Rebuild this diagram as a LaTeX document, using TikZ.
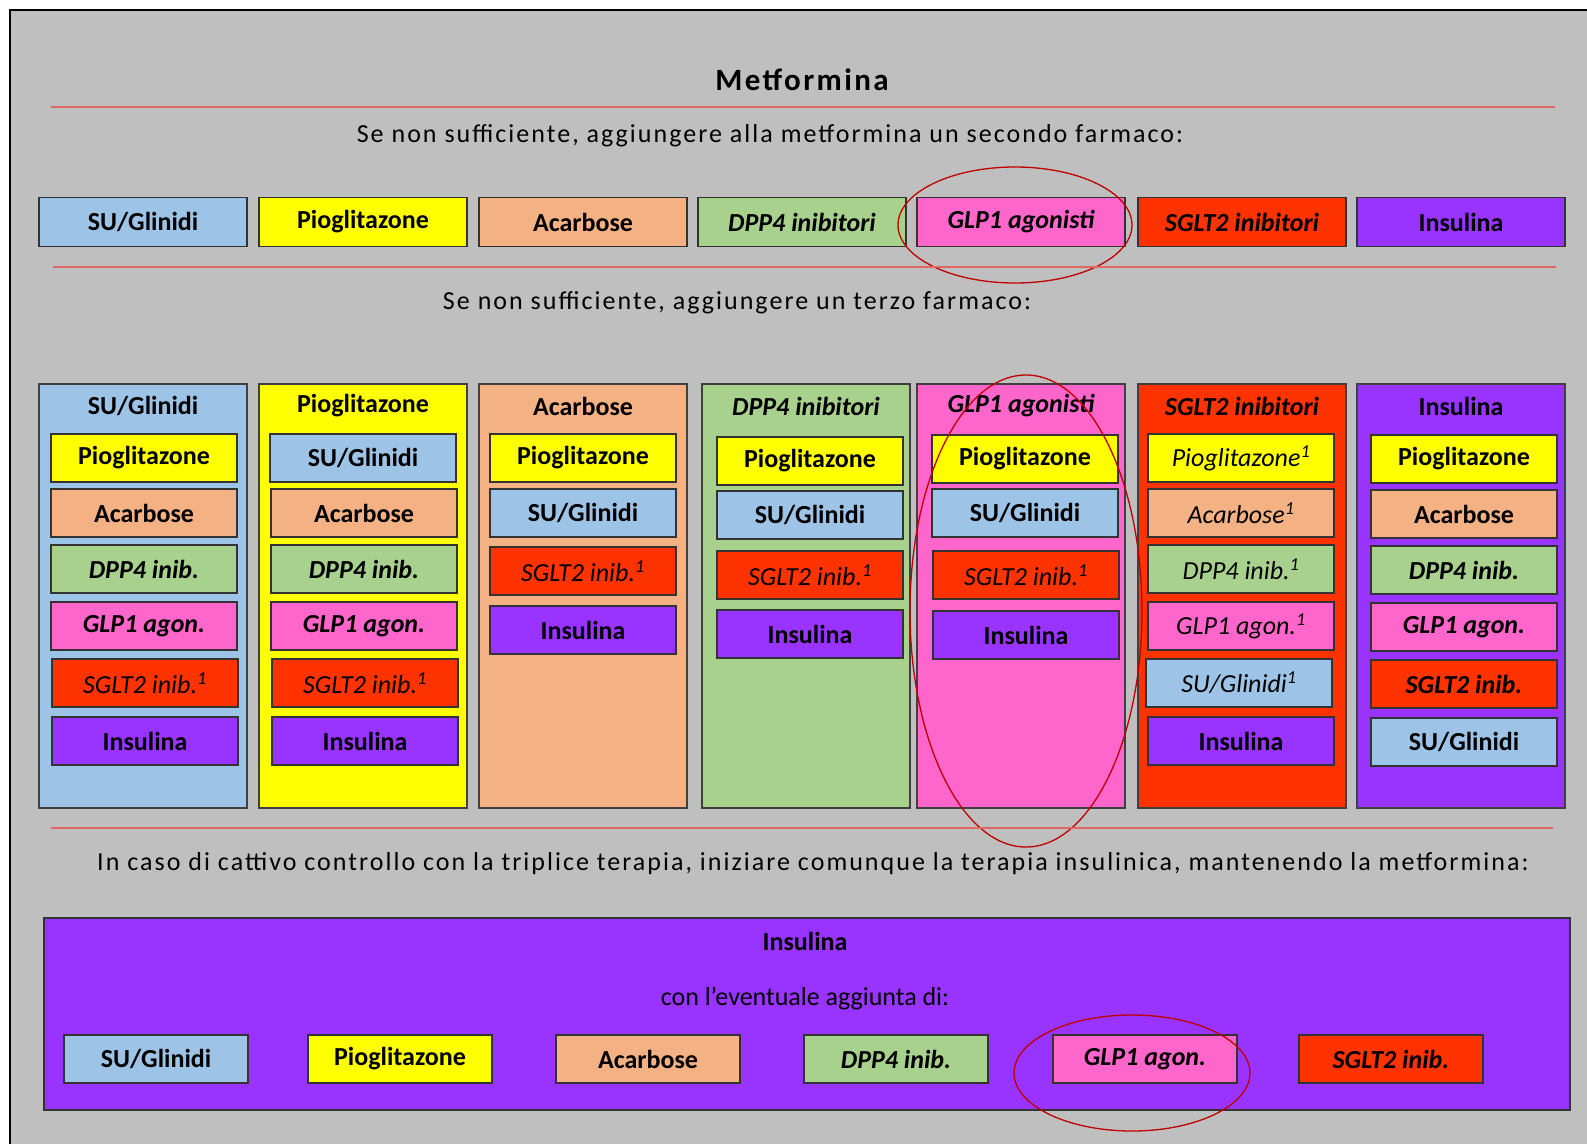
\documentclass[tikz,border=0pt]{standalone}
\usepackage{fontspec}
\setmainfont{Carlito}
\newfontfamily\spacedfont[LetterSpace=7.8]{Carlito}

\definecolor{suc}{HTML}{9DC3E6}
\definecolor{pioc}{HTML}{FFFF00}
\definecolor{acac}{HTML}{F4B183}
\definecolor{dppc}{HTML}{A9D18E}
\definecolor{glpc}{HTML}{FF66CC}
\definecolor{sglc}{HTML}{FF3300}
\definecolor{insc}{HTML}{9933FF}
\definecolor{bggray}{HTML}{BFBFBF}
\definecolor{rulered}{HTML}{E06666}
\definecolor{ringred}{HTML}{C00000}

\tikzset{
  drug/.style={draw=black!80, line width=1.3pt, minimum width=186pt, minimum height=48pt,
    inner sep=0pt, font=\fontsize{26}{30}\selectfont\bfseries},
  firstrow/.style={drug, minimum width=208pt, minimum height=49pt},
  lastrow/.style={drug, minimum width=184pt},
  column/.style={draw=black!75, line width=1.5pt, minimum width=208pt, minimum height=424pt,
    anchor=north, inner sep=0pt},
  head/.style={font=\fontsize{26}{30}\selectfont\bfseries},
  bolditalic/.style={font=\fontsize{26}{30}\selectfont\bfseries\itshape},
  lightitalic/.style={font=\fontsize{26}{30}\selectfont\itshape},
  plain/.style={font=\fontsize{26}{30}\selectfont\spacedfont},
  su/.style={fill=suc}, pio/.style={fill=pioc}, aca/.style={fill=acac},
  dpp/.style={fill=dppc}, glp/.style={fill=glpc}, sgl/.style={fill=sglc}, ins/.style={fill=insc},
  rule/.style={draw=rulered, line width=1.2pt},
  ring/.style={draw=ringred, line width=1.3pt}
}

\begin{document}
\begin{tikzpicture}[x=1pt,y=-1pt]
    \useasboundingbox (0,0) rectangle (1587,1143);
    \clip (0,0) rectangle (1587,1143);
    \fill[white] (0,0) rectangle (1587,1143);
    \draw[fill=bggray, line width=2pt] (10,10) rectangle (1620,1180);

    % metformina
    \node[font=\fontsize{31}{36}\selectfont\spacedfont\bfseries] (title) at (802,80) {Metformina};
    \coordinate (r1a) at (51,107);
    \coordinate (r1b) at (1555,107);
    \draw[rule] (r1a) -- (r1b);
    \node[plain] (step2) at (770,136) {Se non sufficiente, aggiungere alla metformina un secondo farmaco:};

    % second drug
    \node[firstrow, su] (s2su) at (143,222) {SU/Glinidi};
    \node[firstrow, pio] (s2pio) at (363,222) {Pioglitazone};
    \node[firstrow, aca] (s2aca) at (583,222) {Acarbose};
    \node[firstrow, dpp, bolditalic] (s2dpp) at (802,222) {DPP4 inibitori};
    \node[firstrow, glp, bolditalic] (s2glp) at (1021,222) {GLP1 agonisti};
    \node[firstrow, sgl, bolditalic] (s2sgl) at (1242,222) {SGLT2 inibitori};
    \node[firstrow, ins] (s2ins) at (1461,222) {Insulina};
    \draw[ring] (1015,225) ellipse [x radius=117, y radius=58];

    \coordinate (r2a) at (53,267);
    \coordinate (r2b) at (1556,267);
    \draw[rule] (r2a) -- (r2b);
    \node[plain] (step3) at (737,303) {Se non sufficiente, aggiungere un terzo farmaco:};

    % third drug, one column each
    \node[column, su] (colsu) at (143,383) {};
    \node[head] (hsu) at (143,406) {SU/Glinidi};
    \node[drug, pio] (su-pio) at (144,458) {Pioglitazone};
    \node[drug, aca] (su-aca) at (144,513) {Acarbose};
    \node[drug, dpp, bolditalic] (su-dpp) at (144,569) {DPP4 inib.};
    \node[drug, glp, bolditalic] (su-glp) at (144,626) {GLP1 agon.};
    \node[drug, sgl, lightitalic] (su-sgl) at (145,683) {SGLT2 inib.\textsuperscript{1}};
    \node[drug, ins] (su-ins) at (145,741) {Insulina};

    \node[column, pio] (colpio) at (363,383) {};
    \node[head] (hpio) at (363,406) {Pioglitazone};
    \node[drug, su] (pio-su) at (363,458) {SU/Glinidi};
    \node[drug, aca] (pio-aca) at (364,513) {Acarbose};
    \node[drug, dpp, bolditalic] (pio-dpp) at (364,569) {DPP4 inib.};
    \node[drug, glp, bolditalic] (pio-glp) at (364,626) {GLP1 agon.};
    \node[drug, sgl, lightitalic] (pio-sgl) at (365,683) {SGLT2 inib.\textsuperscript{1}};
    \node[drug, ins] (pio-ins) at (365,741) {Insulina};

    \node[column, aca] (colaca) at (583,383) {};
    \node[head] (haca) at (583,406) {Acarbose};
    \node[drug, pio] (aca-pio) at (583,458) {Pioglitazone};
    \node[drug, su] (aca-su) at (583,513) {SU/Glinidi};
    \node[drug, sgl, lightitalic] (aca-sgl) at (583,571) {SGLT2 inib.\textsuperscript{1}};
    \node[drug, ins] (aca-ins) at (583,630) {Insulina};

    \node[column, dpp] (coldpp) at (806,383) {};
    \node[bolditalic] (hdpp) at (806,406) {DPP4 inibitori};
    \node[drug, pio] (dpp-pio) at (810,461) {Pioglitazone};
    \node[drug, su] (dpp-su) at (810,515) {SU/Glinidi};
    \node[drug, sgl, lightitalic] (dpp-sgl) at (810,575) {SGLT2 inib.\textsuperscript{1}};
    \node[drug, ins] (dpp-ins) at (810,634) {Insulina};

    \node[column, glp] (colglp) at (1021,383) {};
    \node[bolditalic] (hglp) at (1021,406) {GLP1 agonisti};
    \node[drug, pio] (glp-pio) at (1025,459) {Pioglitazone};
    \node[drug, su] (glp-su) at (1025,513) {SU/Glinidi};
    \node[drug, sgl, lightitalic] (glp-sgl) at (1026,575) {SGLT2 inib.\textsuperscript{1}};
    \node[drug, ins] (glp-ins) at (1026,635) {Insulina};

    \node[column, sgl] (colsgl) at (1242,383) {};
    \node[bolditalic] (hsgl) at (1242,406) {SGLT2 inibitori};
    \node[drug, pio, lightitalic] (sgl-pio) at (1241,458) {Pioglitazone\textsuperscript{1}};
    \node[drug, aca, lightitalic] (sgl-aca) at (1241,513) {Acarbose\textsuperscript{1}};
    \node[drug, dpp, lightitalic] (sgl-dpp) at (1241,569) {DPP4 inib.\textsuperscript{1}};
    \node[drug, glp, lightitalic] (sgl-glp) at (1241,626) {GLP1 agon.\textsuperscript{1}};
    \node[drug, su, lightitalic] (sgl-su) at (1239,683) {SU/Glinidi\textsuperscript{1}};
    \node[drug, ins] (sgl-ins) at (1241,741) {Insulina};

    \node[column, ins] (colins) at (1461,383) {};
    \node[head] (hins) at (1461,406) {Insulina};
    \node[drug, pio] (ins-pio) at (1464,459) {Pioglitazone};
    \node[drug, aca] (ins-aca) at (1464,514) {Acarbose};
    \node[drug, dpp, bolditalic] (ins-dpp) at (1464,570) {DPP4 inib.};
    \node[drug, glp, bolditalic] (ins-glp) at (1464,627) {GLP1 agon.};
    \node[drug, sgl, bolditalic] (ins-sgl) at (1464,684) {SGLT2 inib.};
    \node[drug, su] (ins-su) at (1464,742) {SU/Glinidi};
    \draw[ring] (1026,611) ellipse [x radius=116, y radius=236];

    % insulin in any case
    \coordinate (r3a) at (51,828);
    \coordinate (r3b) at (1553,828);
    \draw[rule] (r3a) -- (r3b);
    \node[plain] (step4) at (813,864) {In caso di cattivo controllo con la triplice terapia, iniziare comunque la terapia insulinica, mantenendo la metformina:};

    \node[ins, draw=black!80, line width=1.5pt, minimum width=1526pt, minimum height=192pt] (insbox) at (807,1014) {};
    \node[head] (insname) at (805,941) {Insulina};
    \node[font=\fontsize{26}{30}\selectfont] (addon) at (805,999) {con l’eventuale aggiunta di:};
    \node[lastrow, su] (l-su) at (156,1059) {SU/Glinidi};
    \node[lastrow, pio] (l-pio) at (400,1059) {Pioglitazone};
    \node[lastrow, aca] (l-aca) at (648,1059) {Acarbose};
    \node[lastrow, dpp, bolditalic] (l-dpp) at (896,1059) {DPP4 inib.};
    \node[lastrow, glp, bolditalic] (l-glp) at (1145,1059) {GLP1 agon.};
    \node[lastrow, sgl, bolditalic] (l-sgl) at (1391,1059) {SGLT2 inib.};
    \draw[ring] (1132,1073) ellipse [x radius=118, y radius=58];
\end{tikzpicture}
\end{document}
